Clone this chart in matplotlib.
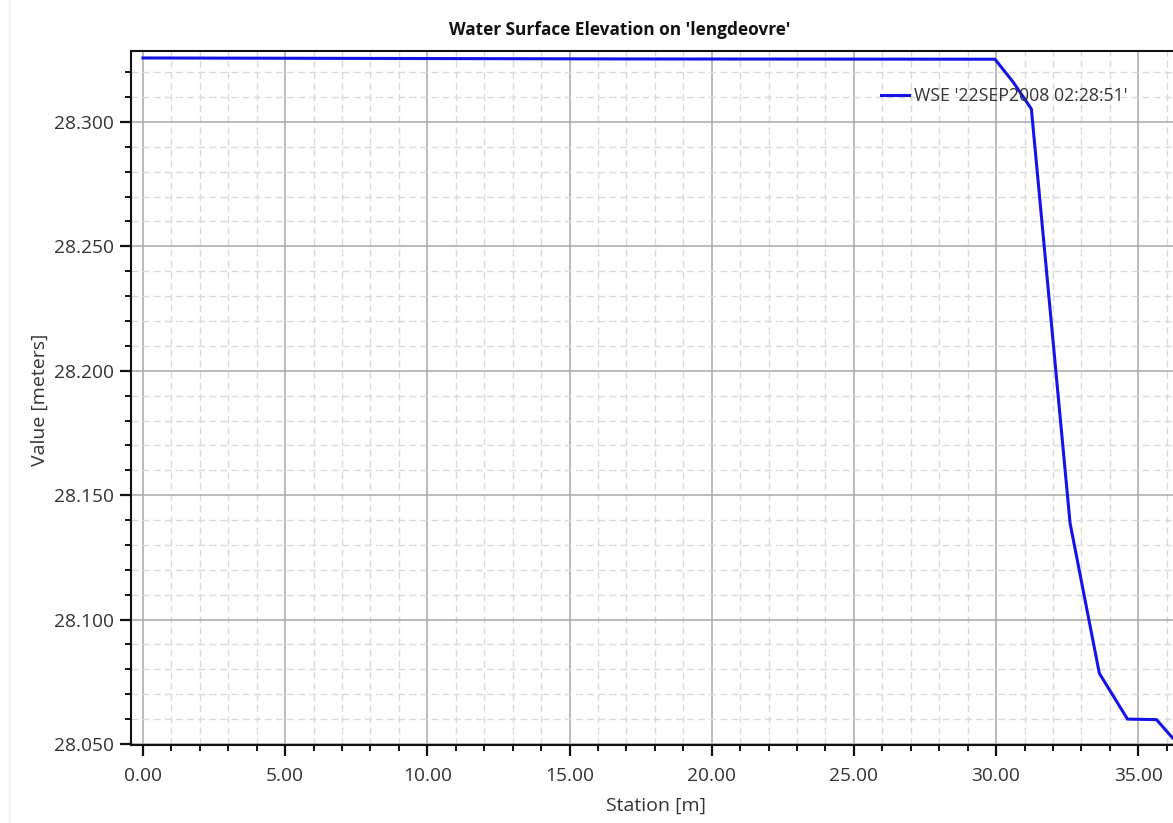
import matplotlib
matplotlib.use("Agg")
import matplotlib.pyplot as plt
from matplotlib.ticker import MultipleLocator, FormatStrFormatter
from matplotlib.lines import Line2D

station = [0.0, 17.4, 29.96, 30.6, 31.24, 32.6, 33.63, 34.62, 35.64, 36.2]
wse = [28.3257, 28.3253, 28.3252, 28.316, 28.3052, 28.1388, 28.0784, 28.0600, 28.0598, 28.0525]
series_label = "WSE '22SEP2008 02:28:51'"
title = "Water Surface Elevation on 'lengdeovre'"

plt.rcParams['font.family'] = ['Open Sans', 'DejaVu Sans']

fig = plt.figure(figsize=(11.73, 8.23), dpi=100)
ax = fig.add_axes([131/1173, 1-745/823, 1-131/1173, (745-51)/823])

ax.plot(station, wse, color='#1414e6', lw=2.2, label=series_label, zorder=3)

ax.set_xlim(-0.42, 36.22)
ax.set_ylim(28.0496, 28.3285)

ax.xaxis.set_major_locator(MultipleLocator(5))
ax.xaxis.set_minor_locator(MultipleLocator(1))
ax.yaxis.set_major_locator(MultipleLocator(0.05))
ax.yaxis.set_minor_locator(MultipleLocator(0.01))
ax.xaxis.set_major_formatter(FormatStrFormatter('%.2f'))
ax.yaxis.set_major_formatter(FormatStrFormatter('%.3f'))

ax.grid(which='major', color='#a8a8a8', lw=1.1, ls='-', zorder=1)
ax.grid(which='minor', color='#dadada', lw=1.0, ls=(0, (5, 3)), zorder=0)
ax.set_axisbelow(True)

for s in ['top', 'left', 'bottom']:
    ax.spines[s].set_linewidth(1.5)
    ax.spines[s].set_color('#111111')
ax.spines['right'].set_visible(False)

ax.tick_params(which='major', length=8, width=1.6, color='#111111', labelsize=13.8, labelcolor='#333333')
ax.tick_params(which='minor', length=4.5, width=1.4, color='#111111')
ax.tick_params(axis='x', which='major', pad=8)
ax.tick_params(axis='y', which='major', pad=4)

fig.text(620/1173, 1-30/823, title, ha='center', va='center', fontsize=12.4, fontweight='bold', color='#111111')
fig.text(656/1173, 1-806/823, 'Station [m]', ha='center', va='center', fontsize=14, color='#333333')
fig.text(40/1173, 1-400/823, 'Value [meters]', ha='center', va='center', rotation=90, fontsize=14, color='#333333')

leg = ax.legend(loc='upper left', bbox_to_anchor=(872/1173, 1-78/823), bbox_transform=fig.transFigure,
                frameon=False, fontsize=12.7, handlelength=1.6, handletextpad=0.3, borderpad=0, labelcolor='#333333')

fig.add_artist(Line2D([9/1173, 9/1173], [0, 1], color='#eeeeee', lw=1, transform=fig.transFigure))

fig.savefig('out.png', dpi=100, facecolor='white')
